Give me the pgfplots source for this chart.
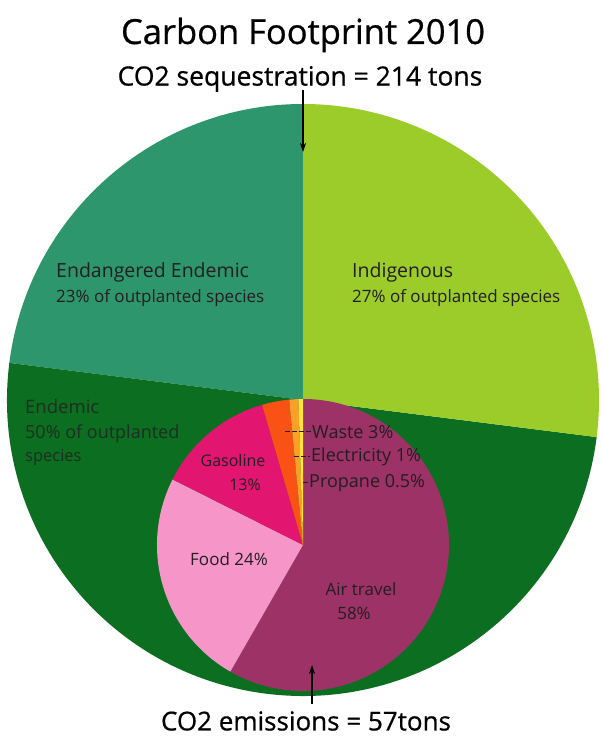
\documentclass[border=0pt]{standalone}
\usepackage{pgfplots}
\pgfplotsset{compat=1.18}
\usepackage{pgfplotstable}
\usepackage{fontspec}
\setmainfont{Open Sans}
\newfontfamily\heavy[FakeBold=0.7]{Open Sans}
\usetikzlibrary{arrows.meta}

\definecolor{endend}{RGB}{46,150,108}
\definecolor{endemic}{RGB}{12,110,32}
\definecolor{indig}{RGB}{155,204,42}
\definecolor{air}{RGB}{156,50,102}
\definecolor{food}{RGB}{246,150,200}
\definecolor{gas}{RGB}{226,22,112}
\definecolor{waste}{RGB}{250,82,20}
\definecolor{elec}{RGB}{250,160,40}
\definecolor{propane}{RGB}{252,228,60}
\definecolor{lbl}{RGB}{35,30,35}

% CO2 sequestration by outplanted species, counter-clockwise from 12 o'clock
\pgfplotstableread{
group share
EndangeredEndemic 23
Endemic 50
Indigenous 27
}\seqdata

% CO2 emissions by source, clockwise from 12 o'clock
\pgfplotstableread{
source share
AirTravel 58
Food 24
Gasoline 13
Waste 3
Electricity 1
Propane 0.5
}\emidata

% cumulative slice boundaries: #1 table, #2 direction (+1 ccw, -1 cw), #3 prefix
\newcommand\cumangles[3]{%
  \pgfplotstablegetrowsof{#1}%
  \pgfmathtruncatemacro\lastrow{\pgfplotsretval-1}%
  \gdef\tot{0}%
  \foreach \r in {0,...,\lastrow}{%
    \pgfplotstablegetelem{\r}{share}\of{#1}%
    \pgfmathsetmacro\tmpv{\tot+\pgfplotsretval}\xdef\tot{\tmpv}}%
  \expandafter\xdef\csname #3a0\endcsname{90}%
  \gdef\acc{0}%
  \foreach \r in {0,...,\lastrow}{%
    \pgfplotstablegetelem{\r}{share}\of{#1}%
    \pgfmathsetmacro\tmpv{\acc+\pgfplotsretval}\xdef\acc{\tmpv}%
    \pgfmathtruncatemacro\nx{\r+1}%
    \pgfmathsetmacro\frac{\acc/\tot}%
    \pgfmathsetmacro\ang{90+#2*360*\frac}%
    \expandafter\xdef\csname #3a\nx\endcsname{\ang}}%
}

% one wedge: prefix, i, j, centre x, centre y, radius, colour
\newcommand\slice[7]{%
  \fill[#7] (axis cs:#4,#5) -- ++(\csname #1a#2\endcsname:#6pt)
    arc[start angle=\csname #1a#2\endcsname, end angle=\csname #1a#3\endcsname, radius=#6pt] -- cycle;}

\begin{document}
\cumangles{\seqdata}{1}{seq}%
\cumangles{\emidata}{-1}{emi}%
\begin{tikzpicture}
\begin{axis}[
  anchor=origin, at={(0pt,0pt)},
  x=1pt, y=1pt,
  xmin=0, xmax=602, ymin=0, ymax=738,
  hide axis, clip=false,
]
% sequestration pie
\slice{seq}{0}{1}{303}{338}{296}{endend}
\slice{seq}{1}{2}{303}{338}{296}{endemic}
\slice{seq}{2}{3}{303}{338}{296}{indig}

% emissions pie
\slice{emi}{0}{1}{303}{193}{146}{air}
\slice{emi}{1}{2}{303}{193}{146}{food}
\slice{emi}{2}{3}{303}{193}{146}{gas}
\slice{emi}{3}{4}{303}{193}{146}{waste}
\slice{emi}{4}{5}{303}{193}{146}{elec}
\slice{emi}{5}{6}{303}{193}{146}{propane}

% titles and arrows
\node[font=\heavy\fontsize{34.5}{37}\selectfont, text=black] at (axis cs:303,703) {Carbon Footprint 2010};
\node[font=\heavy\fontsize{26.5}{28}\selectfont, text=black] at (axis cs:300,659) {CO2 sequestration = 214 tons};
\draw[line width=1.1pt, -{Stealth[length=9pt,width=6pt]}] (axis cs:303,648) -- (axis cs:303,586);
\node[font=\heavy\fontsize{26}{28}\selectfont, text=black] at (axis cs:306,17) {CO2 emissions = 57tons};
\draw[line width=1.1pt, -{Stealth[length=9pt,width=6pt]}] (axis cs:312,34) -- (axis cs:312,73);

% sequestration labels
\node[anchor=west, font=\fontsize{19.5}{21}\selectfont, text=lbl, inner sep=0pt] at (axis cs:56,466) {Endangered Endemic};
\node[anchor=west, font=\fontsize{17}{19}\selectfont, text=lbl, inner sep=0pt] at (axis cs:56,440) {23\% of outplanted species};
\node[anchor=west, font=\fontsize{19.5}{21}\selectfont, text=lbl, inner sep=0pt] at (axis cs:352,466) {Indigenous};
\node[anchor=west, font=\fontsize{17}{19}\selectfont, text=lbl, inner sep=0pt] at (axis cs:352,440) {27\% of outplanted species};
\node[anchor=west, font=\fontsize{18.5}{20}\selectfont, text=lbl!80!endemic, inner sep=0pt] at (axis cs:25,331) {Endemic};
\node[anchor=west, font=\fontsize{18}{20}\selectfont, text=lbl!80!endemic, inner sep=0pt] at (axis cs:25,304) {50\% of outplanted};
\node[anchor=west, font=\fontsize{16.5}{18}\selectfont, text=lbl!80!endemic, inner sep=0pt] at (axis cs:25,281) {species};

% emissions labels
\node[font=\fontsize{16}{18}\selectfont, text=lbl] at (axis cs:233,277) {Gasoline};
\node[font=\fontsize{16}{18}\selectfont, text=lbl] at (axis cs:245,253) {13\%};
\node[font=\fontsize{17}{19}\selectfont, text=lbl] at (axis cs:229,179) {Food 24\%};
\node[font=\fontsize{17}{19}\selectfont, text=lbl] at (axis cs:361,149) {Air travel};
\node[font=\fontsize{17}{19}\selectfont, text=lbl] at (axis cs:354,125) {58\%};

\draw[lbl, line width=1pt, dash pattern=on 5pt off 2pt] (axis cs:285,306) -- (axis cs:311,306);
\node[anchor=west, font=\fontsize{18}{20}\selectfont, text=lbl, inner sep=1pt] at (axis cs:311,306) {Waste 3\%};
\draw[lbl, line width=1pt, dash pattern=on 5pt off 2pt] (axis cs:294,281) -- (axis cs:310,281);
\node[anchor=west, font=\fontsize{18}{20}\selectfont, text=lbl, inner sep=1pt] at (axis cs:310,281) {Electricity 1\%};
\draw[lbl, line width=1pt] (axis cs:303,255) -- (axis cs:308,255);
\node[anchor=west, font=\fontsize{18}{20}\selectfont, text=lbl, inner sep=1pt] at (axis cs:308,255) {Propane 0.5\%};
\end{axis}
\pgfresetboundingbox
\path[use as bounding box] (0pt,0pt) rectangle (602pt,738pt);
\end{tikzpicture}
\end{document}
